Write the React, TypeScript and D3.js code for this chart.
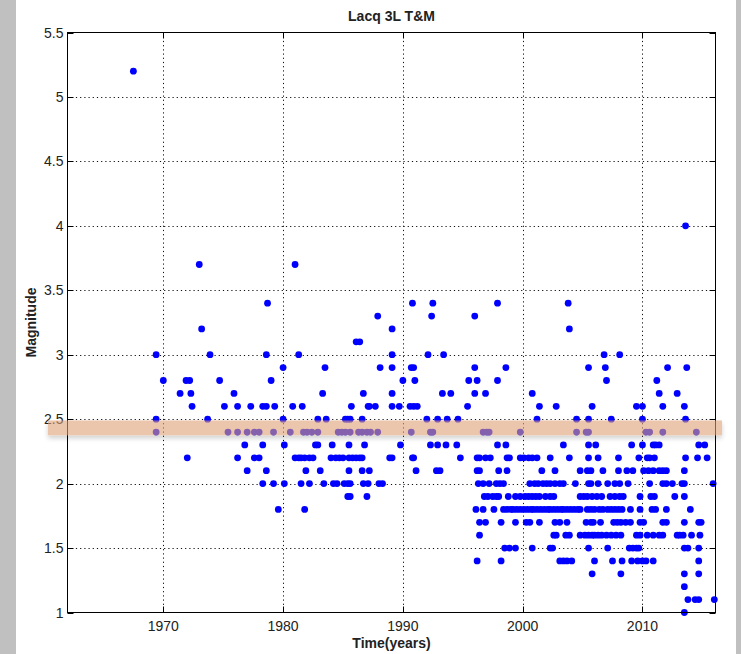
import { useEffect, useRef } from "react"
import * as d3 from "d3"

// event years, grouped by magnitude (Lacq 3L T&M catalogue)
const m52 = [1967.5]
const m40 = [2013.6]
const m37 = [1973.0, 1981.0]
const m34 = [1978.7, 1990.8, 1992.5, 1997.9, 2003.8]
const m33 = [1987.9, 1992.4, 1996.0]
const m32 = [1973.2, 1989.1, 2003.9]
const m31 = [1986.1, 1986.4]
const m30 = [1969.4, 1973.9, 1978.6, 1981.3, 1989.1, 1992.1, 1993.4, 2006.8, 2008.1]
const m29 = [1980.0, 1983.5, 1988.1, 1989.1, 1990.7, 1990.9, 1996.0, 1998.6, 2005.5, 2006.9, 2012.1, 2013.7]
const m28 = [1970.0, 1971.9, 1972.2, 1974.7, 1979.0, 1990.0, 1991.0, 1995.5, 1996.2, 1997.9, 2007.0, 2011.2]
const m27 = [1971.4, 1972.3, 1975.9, 1983.3, 1986.7, 1989.1, 1993.3, 1994.0, 1996.0, 1996.9, 2000.8, 2011.4, 2012.9]
const m26 = [
  1972.4, 1975.1, 1976.2, 1977.3, 1978.3, 1978.6, 1979.3, 1980.8, 1981.6, 1985.7, 1987.1, 1987.2, 1987.7,
  1989.1, 1989.7, 1990.6, 1990.9, 1991.2, 1995.4, 2001.4, 2002.8, 2005.8, 2009.5, 2010.0, 2011.7, 2013.5,
]
const m25 = [
  1969.4, 1973.7, 1980.0, 1982.9, 1983.6, 1985.2, 1985.4, 1985.6, 1986.6, 1992.0, 1992.9, 1993.7, 1994.6,
  2001.2, 2004.5, 2005.5, 2007.4, 2010.0, 2013.6,
]
const m24 = [
  1969.4, 1975.4, 1976.2, 1977.0, 1977.6, 1978.0, 1979.2, 1980.6, 1981.7, 1982.0, 1982.4, 1982.9, 1984.6,
  1984.9, 1985.2, 1985.6, 1986.3, 1986.6, 1987.0, 1987.3, 1987.9, 1990.7, 1992.3, 1992.5, 1996.7, 1997.0,
  1997.2, 1999.8, 2004.5, 2005.3, 2005.5, 2010.3, 2010.6, 2011.7, 2014.5,
]
const m23 = [
  1976.8, 1978.3, 1980.1, 1982.7, 1982.9, 1984.1, 1985.5, 1986.8, 1989.8, 1992.3, 1992.9, 1993.6, 1994.5,
  1997.9, 1998.6, 2003.4, 2005.5, 2006.1, 2009.1, 2010.0, 2010.9, 2011.1, 2011.4, 2014.7, 2015.2,
]
const m22 = [
  1972.0, 1976.2, 1977.6, 1978.0, 1981.0, 1981.3, 1981.5, 1981.8, 1982.2, 1982.5, 1984.0, 1984.4, 1984.7,
  1985.0, 1985.5, 1985.8, 1986.1, 1986.4, 1986.6, 1988.9, 1989.1, 1990.8, 1990.9, 1994.8, 1996.2, 1996.4,
  1996.9, 1997.3, 1998.7, 1998.9, 1999.8, 2000.1, 2000.5, 2000.8, 2001.2, 2002.3, 2003.9, 2005.5, 2006.3,
  2008.0, 2009.7, 2010.4, 2010.6, 2011.0, 2013.6, 2014.6, 2015.4,
]
const m21 = [
  1977.0, 1978.6, 1981.9, 1983.1, 1985.5, 1986.6, 1987.2, 1991.1, 1992.8, 1993.1, 1996.2, 1996.4, 1998.0,
  1998.7, 2001.6, 2002.7, 2004.8, 2005.4, 2005.7, 2006.7, 2008.0, 2008.7, 2009.2, 2010.1, 2010.5, 2010.9,
  2011.4, 2011.7, 2012.0, 2013.5,
]
const m20 = [
  1978.3, 1979.2, 1980.1, 1981.5, 1982.2, 1983.4, 1984.2, 1984.5, 1985.1, 1985.4, 1985.6, 1986.7, 1987.1,
  1988.0, 1988.3, 1996.3, 1996.7, 1997.2, 1997.8, 1998.1, 1998.4, 2000.6, 2001.0, 2001.3, 2001.7, 2002.0,
  2002.3, 2002.7, 2003.1, 2003.4, 2004.4, 2005.5, 2005.7, 2006.3, 2007.1, 2007.7, 2008.1, 2008.8, 2010.6,
  2011.7, 2012.0, 2012.5, 2013.3, 2013.5, 2015.9,
]
const m19 = [
  1985.4, 1985.6, 1987.0, 1996.8, 1997.1, 1997.5, 1997.8, 1998.0, 1998.8, 1999.4, 1999.8, 2000.2, 2000.5,
  2000.8, 2001.1, 2001.4, 2001.9, 2002.3, 2002.6, 2004.8, 2005.1, 2005.4, 2005.8, 2006.2, 2006.6, 2007.3,
  2007.7, 2008.1, 2008.4, 2009.8, 2010.7, 2011.0, 2012.7, 2013.5,
]
const m18 = [
  1979.6, 1981.8, 1996.1, 1996.7, 1997.6, 1998.4, 1998.7, 1999.0, 1999.2, 1999.5, 1999.8, 2000.1, 2000.4,
  2000.7, 2000.9, 2001.2, 2001.5, 2001.8, 2002.1, 2002.3, 2002.6, 2002.9, 2003.2, 2003.4, 2003.7, 2004.0,
  2004.3, 2004.6, 2004.8, 2005.4, 2005.7, 2006.0, 2006.4, 2006.7, 2007.1, 2007.4, 2007.7, 2008.0, 2008.3,
  2009.0, 2009.8, 2010.8, 2011.1, 2012.0, 2014.0,
]
const m17 = [
  1996.4, 1996.9, 1998.2, 1999.4, 2000.3, 2000.6, 2001.4, 2002.7, 2003.1, 2003.7, 2005.3, 2005.7, 2005.9,
  2006.5, 2007.6, 2007.9, 2008.2, 2008.6, 2009.0, 2009.8, 2010.1, 2011.7, 2012.0, 2013.5, 2014.7, 2014.9,
]
const m16 = [
  1996.4, 2002.6, 2002.8, 2003.6, 2003.9, 2004.8, 2005.2, 2005.5, 2005.8, 2006.0, 2006.3, 2006.6, 2007.0,
  2007.4, 2007.8, 2008.2, 2009.5, 2009.8, 2010.4, 2010.9, 2011.4, 2011.7, 2012.9, 2013.1, 2013.4, 2014.1,
  2014.8,
]
const m15 = [1998.5, 1998.9, 1999.4, 2000.8, 2002.3, 2002.5, 2005.5, 2007.1, 2008.9, 2009.2, 2009.5, 2009.7, 2013.5, 2013.8, 2014.7]
const m14 = [1996.2, 1998.2, 2003.1, 2003.4, 2003.7, 2004.1, 2006.0, 2007.5, 2008.3, 2009.1, 2009.6, 2010.0, 2010.3, 2010.9, 2014.7]
const m13 = [2005.8, 2008.2, 2013.5, 2014.7]
const m12 = [2013.5]
const m11 = [2013.8, 2014.4, 2014.7, 2016.0]
const m10 = [2013.5]

const magnitudeRows: [number, number[]][] = [
  [5.2, m52], [4.0, m40], [3.7, m37], [3.4, m34], [3.3, m33], [3.2, m32], [3.1, m31], [3.0, m30],
  [2.9, m29], [2.8, m28], [2.7, m27], [2.6, m26], [2.5, m25], [2.4, m24], [2.3, m23], [2.2, m22],
  [2.1, m21], [2.0, m20], [1.9, m19], [1.8, m18], [1.7, m17], [1.6, m16], [1.5, m15], [1.4, m14],
  [1.3, m13], [1.2, m12], [1.1, m11], [1.0, m10],
]

const xTicks = [1970, 1980, 1990, 2000, 2010]
const yTicks = [1, 1.5, 2, 2.5, 3, 3.5, 4, 4.5, 5, 5.5]

// highlighted magnitude band
const bandRange = [2.375, 2.49]

export default function App() {
  const svgRef = useRef<SVGSVGElement | null>(null)

  useEffect(() => {
    if (!svgRef.current) return
    const svg = d3.select(svgRef.current)
    svg.selectAll("*").remove()

    const width = 741
    const height = 654
    const left = 67.5
    const right = 715.5
    const top = 32.5
    const bottom = 612.5
    const font = "'Liberation Sans', Arial, sans-serif"

    const x = d3.scaleLinear().domain([1962, 2016.1]).range([left, right])
    const y = d3.scaleLinear().domain([1, 5.5]).range([bottom, top])

    svg.attr("width", width).attr("height", height)

    svg.append("rect").attr("width", width).attr("height", height).attr("fill", "#fff")
    svg.append("rect").attr("x", 0).attr("width", 16).attr("height", height).attr("fill", "#c0c0c0")
    svg.append("rect").attr("x", 736).attr("width", 5).attr("height", height).attr("fill", "#c0c0c0")

    const defs = svg.append("defs")
    const shadow = defs.append("filter").attr("id", "bandShadow").attr("x", "-5%").attr("y", "-50%").attr("width", "110%").attr("height", "250%")
    shadow
      .append("feDropShadow")
      .attr("dx", 0)
      .attr("dy", 3)
      .attr("stdDeviation", 2.5)
      .attr("flood-color", "#000")
      .attr("flood-opacity", 0.3)

    // grid
    const grid = svg.append("g").attr("stroke", "#111").attr("stroke-width", 1).attr("stroke-dasharray", "1.2,3")
    grid
      .selectAll("line.vx")
      .data(xTicks)
      .join("line")
      .attr("x1", (d) => Math.round(x(d)) + 0.5)
      .attr("x2", (d) => Math.round(x(d)) + 0.5)
      .attr("y1", top)
      .attr("y2", bottom)
    grid
      .selectAll("line.hy")
      .data(yTicks.filter((d) => d > 1 && d < 5.5))
      .join("line")
      .attr("x1", left)
      .attr("x2", right)
      .attr("y1", (d) => Math.round(y(d)) + 0.5)
      .attr("y2", (d) => Math.round(y(d)) + 0.5)

    // points
    const points = magnitudeRows.flatMap(([mag, years]) => years.map((year) => ({ year, mag })))
    svg
      .append("g")
      .selectAll("circle")
      .data(points)
      .join("circle")
      .attr("cx", (d) => x(d.year))
      .attr("cy", (d) => y(d.mag))
      .attr("r", 3.4)
      .attr("fill", "#0000ff")

    // axes box + inward ticks
    const axes = svg.append("g").attr("stroke", "#000").attr("stroke-width", 1).attr("fill", "none")
    axes.append("rect").attr("x", left).attr("y", top).attr("width", right - left).attr("height", bottom - top)
    xTicks.forEach((t) => {
      const px = Math.round(x(t)) + 0.5
      axes.append("line").attr("x1", px).attr("x2", px).attr("y1", bottom).attr("y2", bottom - 6)
      axes.append("line").attr("x1", px).attr("x2", px).attr("y1", top).attr("y2", top + 6)
    })
    yTicks.forEach((t) => {
      const py = Math.round(y(t)) + 0.5
      axes.append("line").attr("x1", left).attr("x2", left + 6).attr("y1", py).attr("y2", py)
      axes.append("line").attr("x1", right).attr("x2", right - 6).attr("y1", py).attr("y2", py)
    })

    // tick labels
    svg
      .append("g")
      .selectAll("text")
      .data(xTicks)
      .join("text")
      .text((d) => d)
      .attr("x", (d) => x(d))
      .attr("y", bottom + 18)
      .attr("text-anchor", "middle")
      .attr("font-family", font)
      .attr("font-size", 14)
      .attr("fill", "#222")

    svg
      .append("g")
      .selectAll("text")
      .data(yTicks)
      .join("text")
      .text((d) => d)
      .attr("x", left - 4)
      .attr("y", (d) => y(d) + 5)
      .attr("text-anchor", "end")
      .attr("font-family", font)
      .attr("font-size", 14)
      .attr("fill", "#222")

    // title and axis labels
    svg
      .append("text")
      .text("Lacq 3L T&M")
      .attr("x", (left + right) / 2)
      .attr("y", 20.5)
      .attr("text-anchor", "middle")
      .attr("font-family", font)
      .attr("font-weight", "bold")
      .attr("font-size", 14)
      .attr("fill", "#222")

    svg
      .append("text")
      .text("Time(years)")
      .attr("x", (left + right) / 2)
      .attr("y", 648)
      .attr("text-anchor", "middle")
      .attr("font-family", font)
      .attr("font-weight", "bold")
      .attr("font-size", 14)
      .attr("fill", "#222")

    svg
      .append("text")
      .text("Magnitude")
      .attr("transform", `translate(36, ${(top + bottom) / 2}) rotate(-90)`)
      .attr("text-anchor", "middle")
      .attr("font-family", font)
      .attr("font-weight", "bold")
      .attr("font-size", 14)
      .attr("fill", "#222")

    // highlight band over the points
    svg
      .append("rect")
      .attr("x", 48)
      .attr("y", y(bandRange[1]))
      .attr("width", 722 - 48)
      .attr("height", y(bandRange[0]) - y(bandRange[1]))
      .attr("fill", "rgb(222,160,118)")
      .attr("opacity", 0.6)
      .attr("filter", "url(#bandShadow)")
  }, [])

  return (
    <div style={{ position: "absolute", left: 0, top: 0 }}>
      <svg ref={svgRef} style={{ display: "block" }} />
    </div>
  )
}
